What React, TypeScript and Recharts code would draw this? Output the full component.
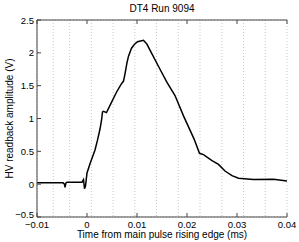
import { LineChart, Line, XAxis, YAxis, CartesianGrid, Label } from 'recharts';

const title = 'DT4 Run 9094';
const xLabel = 'Time from main pulse rising edge (ms)';
const yLabel = 'HV readback amplitude (V)';

const xTicks = [-0.01, 0, 0.01, 0.02, 0.03, 0.04];
const yTicks = [-0.5, 0, 0.5, 1, 1.5, 2, 2.5];

const timeMs = [
  -0.01, -0.0048, -0.0045, -0.0044, -0.0042, -0.004, -0.001, -0.0007, -0.0005, -0.0003,
  0, 0.0006, 0.0016, 0.0021, 0.0026, 0.0029, 0.0031, 0.0033, 0.0039, 0.0046,
  0.0059, 0.0069, 0.0073, 0.0076, 0.008, 0.0083, 0.0089, 0.0095, 0.0101, 0.0113,
  0.012, 0.0126, 0.0146, 0.016, 0.0176, 0.0193, 0.0214, 0.0225, 0.0233, 0.025,
  0.0263, 0.0276, 0.029, 0.0303, 0.0333, 0.0373, 0.04,
];
const amplitude = [
  0.02, 0.02, 0.0, -0.05, 0.02, 0.03, 0.03, 0.07, -0.07, -0.03,
  0.17, 0.31, 0.52, 0.67, 0.84, 0.97, 1.1, 1.11, 1.09, 1.2,
  1.4, 1.53, 1.57, 1.68, 1.85, 1.95, 2.07, 2.13, 2.17, 2.19,
  2.13, 2.04, 1.75, 1.55, 1.35, 1.04, 0.69, 0.47, 0.45, 0.36,
  0.3, 0.2, 0.13, 0.09, 0.07, 0.075, 0.05,
];

const data = timeMs.map((t, i) => ({ t, v: amplitude[i] }));

const FONT = '"Liberation Sans", Arial, sans-serif';
const fmt = (v: number) => (v < 0 ? '\u2212' + String(-v) : String(v));
const axisColor = '#444';

// y tick labels, bottom one nudged up like matlab does
const YTick = ({ x, y, payload }: any) => (
  <text
    x={x}
    y={payload.value === -0.5 ? y - 3 : y}
    textAnchor="end"
    dominantBaseline="central"
    fill="#000"
    fontSize={9.5}
  >
    {fmt(payload.value)}
  </text>
);

const App = () => {
  return (
    <div style={{ position: 'absolute', left: 0, top: 0, background: '#fff' }}>
      <LineChart
        width={299}
        height={242}
        data={data}
        margin={{ top: 0, right: 12, bottom: 0, left: 5 }}
        style={{ fontFamily: FONT }}
      >
        <CartesianGrid stroke="#bbb" strokeDasharray="1 2" strokeWidth={0.8} />
        <XAxis
          xAxisId="bottom"
          dataKey="t"
          type="number"
          domain={[-0.01, 0.04]}
          ticks={xTicks}
          tickFormatter={fmt}
          allowDataOverflow
          height={25}
          tickSize={-4}
          tickMargin={8}
          stroke={axisColor}
          tick={{ fill: '#000', fontSize: 9.5 }}
        >
          <Label value={xLabel} position="insideBottom" offset={4} fill="#000" fontSize={10} />
        </XAxis>
        <XAxis
          xAxisId="top"
          orientation="top"
          dataKey="t"
          type="number"
          domain={[-0.01, 0.04]}
          ticks={xTicks}
          tickFormatter={() => ''}
          allowDataOverflow
          height={20}
          tickSize={-4}
          stroke={axisColor}
        >
          <Label value={title} position="insideTop" offset={5} fill="#000" fontSize={10} />
        </XAxis>
        <YAxis
          yAxisId="left"
          type="number"
          domain={[-0.5, 2.5]}
          ticks={yTicks}
          allowDataOverflow
          width={32}
          tickSize={-4}
          tickMargin={7}
          stroke={axisColor}
          tick={<YTick />}
        >
          <Label
            value={yLabel}
            angle={-90}
            position="insideLeft"
            offset={4}
            fill="#000"
            fontSize={10}
            style={{ textAnchor: 'middle' }}
          />
        </YAxis>
        <YAxis
          yAxisId="right"
          orientation="right"
          type="number"
          domain={[-0.5, 2.5]}
          ticks={yTicks}
          tickFormatter={() => ''}
          allowDataOverflow
          width={0}
          tickSize={-4}
          stroke={axisColor}
        />
        <Line
          xAxisId="bottom"
          yAxisId="left"
          dataKey="v"
          type="linear"
          stroke="#000"
          strokeWidth={1.5}
          dot={false}
          isAnimationActive={false}
        />
      </LineChart>
    </div>
  );
};

export default App;
